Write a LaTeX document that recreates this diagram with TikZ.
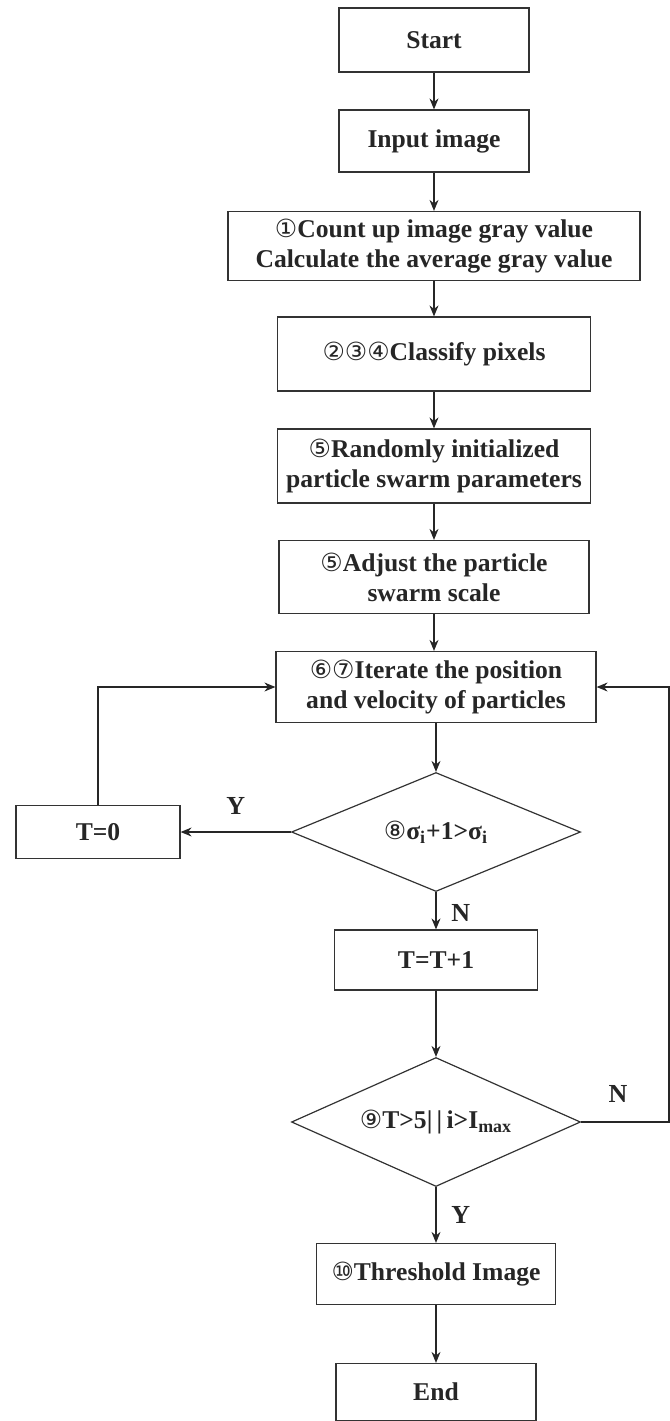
\documentclass[tikz,border=0pt]{standalone}
\usepackage{fontspec}
\setmainfont{Liberation Serif}
\newfontfamily\cnum{DejaVu Sans}
\newcommand{\cn}[1]{{\cnum\mdseries\fontsize{12.5}{14}\selectfont #1}}
\usetikzlibrary{shapes.geometric,arrows.meta}
\begin{document}
\begin{tikzpicture}[x=0.5pt,y=-0.5pt,font=\fontsize{12.8}{15}\selectfont\bfseries,
  bx/.style={draw=black!80, line width=0.6pt, inner sep=2pt, align=center,
             text=black!85},
  dc/.style={draw=black!80, line width=0.6pt, diamond, aspect=2.4, inner sep=0pt,
             align=center, text=black!85},
  lb/.style={text=black!85, font=\fontsize{13}{15}\selectfont\bfseries},
  ar/.style={draw=black!85, line width=0.6pt, -{Stealth[length=5.5pt,width=4.5pt]}}
]
\useasboundingbox (0,0) rectangle (670,1421);
% main column
\node[bx, minimum width=95pt, minimum height=32pt] (start) at (434,40) {Start};
\node[bx, minimum width=95pt, minimum height=31pt] (input) at (434,141) {Input image};
\node[bx, minimum width=206pt, minimum height=34.5pt] (count) at (434,246)
  {\cn{①}Count up image gray value\\Calculate the average gray value};
\node[bx, minimum width=156.5pt, minimum height=37pt] (clas) at (434,354)
  {\cn{②③④}Classify pixels};
\node[bx, minimum width=156.5pt, minimum height=37pt] (init) at (434,466)
  {\cn{⑤}Randomly initialized\\particle swarm parameters};
\node[bx, minimum width=155pt, minimum height=36.5pt] (adj) at (434,577)
  {\cn{⑤}Adjust the particle\\swarm scale};
\node[bx, minimum width=160pt, minimum height=35.5pt] (iter) at (436,687)
  {\cn{⑥⑦}Iterate the position\\and velocity of particles};
\node[dc, minimum width=144.5pt, minimum height=59.5pt] (dec1) at (436,832)
  {\cn{⑧}σ\textsubscript{i}+1>σ\textsubscript{i}};
\node[bx, minimum width=82pt, minimum height=26.5pt] (tzero) at (98,832) {T=0};
\node[bx, minimum width=101.5pt, minimum height=30pt] (tinc) at (436,960) {T=T+1};
\node[dc, minimum width=144.5pt, minimum height=64.5pt] (dec2) at (436,1122)
  {\cn{⑨}T>5|\,|\,i>I\textsubscript{max}};
\node[bx, minimum width=119.5pt, minimum height=30.5pt] (thr) at (436,1274)
  {\cn{⑩}Threshold Image};
\node[bx, minimum width=100pt, minimum height=28.5pt] (end) at (436,1392) {End};
\coordinate (rt) at (669,1122);
% connectors
\draw[ar] (start) -- (input);
\draw[ar] (input) -- (count);
\draw[ar] (count) -- (clas);
\draw[ar] (clas) -- (init);
\draw[ar] (init) -- (adj);
\draw[ar] (adj.south) -- (adj.south |- iter.north);
\draw[ar] (iter) -- (dec1);
\draw[ar] (dec1.west) -- node[lb, above=5pt, pos=0.5] (ly1) {Y} (tzero.east);
\draw[ar] (tzero.north) |- (iter.west);
\draw[ar] (dec1.south) -- node[lb, right=4pt, pos=0.55] (ln1) {N} (tinc.north);
\draw[ar] (tinc) -- (dec2);
\draw[ar] (dec2.south) -- node[lb, right=4pt, pos=0.5] (ly2) {Y} (thr.north);
\draw[ar] (thr) -- (end);
\draw[ar] (dec2.east) -- node[lb, above=6pt, pos=0.42] (ln2) {N} (rt) |- (iter.east);
\end{tikzpicture}
\end{document}
